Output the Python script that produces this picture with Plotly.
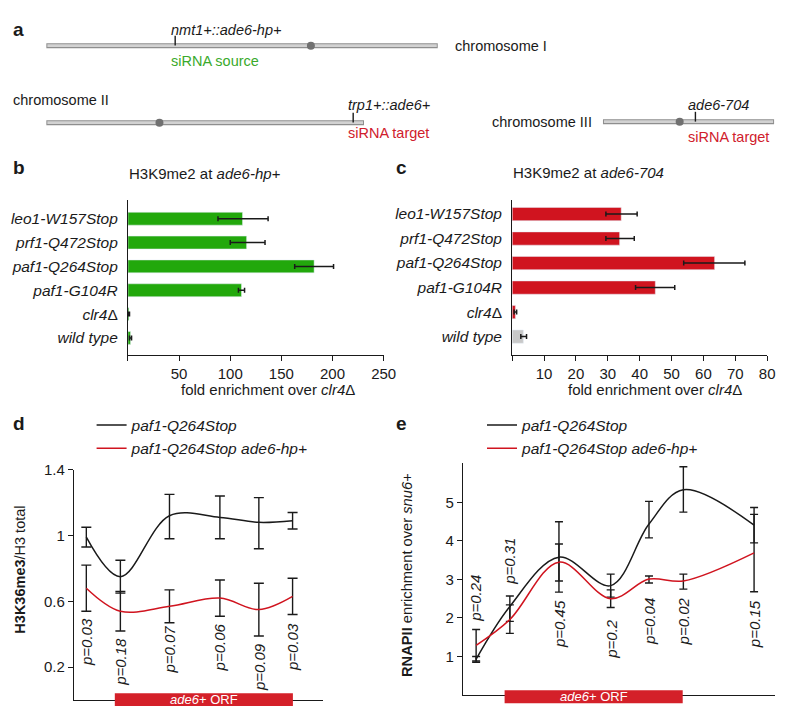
import plotly.graph_objects as go

# ---- panel a : schematic chromosomes (schematic units) ----
chrom_labels = ["chromosome I", "chromosome II", "chromosome III"]
chrom_start = [47, 47, 613]
chrom_end = [445, 370, 787]
cen_pos = [316, 162, 691]
locus_pos = [178, 359, 707]
locus_names = ["nmt1+::ade6-hp+", "trp1+::ade6+", "ade6-704"]
locus_roles = ["siRNA source", "siRNA target", "siRNA target"]

# ---- panels b / c : H3K9me2 bars ----
strains = ["leo1-W157Stop", "prf1-Q472Stop", "paf1-Q264Stop", "paf1-G104R", "clr4Δ", "wild type"]
strain_ticks = ["<i>leo1-W157Stop</i>", "<i>prf1-Q472Stop</i>", "<i>paf1-Q264Stop</i>",
                "<i>paf1-G104R</i>", "<i>clr4</i>Δ", "<i>wild type</i>"]
b_values = [112, 116, 182, 111, 1, 2.5]
b_err_plus = [25, 18, 19, 3, 0.5, 1]
b_err_minus = [24, 16, 19, 3, 0.5, 1]
c_values = [34.2, 33.7, 63.5, 44.9, 1.0, 3.5]
c_err_plus = [5.0, 4.6, 9.5, 6.1, 0.4, 1.0]
c_err_minus = [4.8, 4.3, 9.7, 6.2, 0.4, 0.8]

# ---- panel d : H3K36me3 along ade6+ ----
d_pos = [0.38, 1.42, 2.92, 4.46, 5.65, 6.68]
d_black = [0.99, 0.75, 1.12, 1.11, 1.08, 1.09]
d_black_plus = [0.06, 0.10, 0.13, 0.13, 0.15, 0.05]
d_black_minus = [0.06, 0.10, 0.14, 0.13, 0.16, 0.05]
d_red = [0.68, 0.54, 0.57, 0.62, 0.55, 0.63]
d_red_plus = [0.14, 0.12, 0.10, 0.11, 0.16, 0.11]
d_red_minus = [0.14, 0.12, 0.10, 0.11, 0.16, 0.11]
d_pvals = ["p=0.03", "p=0.18", "p=0.07", "p=0.06", "p=0.09", "p=0.03"]
d_orf = [1.25, 6.69]

# ---- panel e : RNAPII along ade6+ ----
e_pos = [0.40, 1.43, 2.93, 4.51, 5.68, 6.73, 8.89]
e_black = [0.93, 2.30, 3.58, 2.84, 4.44, 5.33, 4.41]
e_black_plus = [0.07, 0.27, 0.92, 0.30, 0.59, 0.60, 0.46]
e_black_minus = [0.08, 0.39, 0.91, 0.30, 0.36, 0.58, 0.46]
e_red = [1.29, 1.96, 3.45, 2.50, 3.01, 2.96, 3.69]
e_red_plus = [0.41, 0.38, 0.47, 0.23, 0.08, 0.18, 1.00]
e_red_minus = [0.41, 0.36, 0.49, 0.23, 0.10, 0.21, 1.01]
e_pvals = ["p=0.24", "p=0.31", "p=0.45", "p=0.2", "p=0.04", "p=0.02", "p=0.15"]
e_orf = [1.27, 6.71]

GREEN = "#22a80c"
RED = "#d0141f"
INK = "#1a1a1a"
FONT = "Arial, Liberation Sans, sans-serif"

# the page body has an 8px margin, so the figure is 16px smaller than the window
OFF = 8
W, H = 800 - 2 * OFF, 721 - 2 * OFF


def fx(xp):
    return (xp - OFF) / W


def fy(yp):
    return 1 - (yp - OFF) / H


fig = go.Figure()

# chromosomes
row_y = [37, 115, 114]
for i in range(3):
    fig.add_trace(go.Scatter(x=[chrom_start[i], chrom_end[i]], y=[row_y[i]] * 2, mode="lines",
                             line=dict(color="#8e8e8e", width=5), xaxis="x5", yaxis="y5",
                             showlegend=False, hoverinfo="skip"))
    fig.add_trace(go.Scatter(x=[chrom_start[i] + 1, chrom_end[i] - 1], y=[row_y[i]] * 2, mode="lines",
                             line=dict(color="#d2d2d2", width=2.6), xaxis="x5", yaxis="y5",
                             showlegend=False, hoverinfo="skip"))
fig.add_trace(go.Scatter(x=cen_pos, y=row_y, mode="markers", xaxis="x5", yaxis="y5",
                         marker=dict(color="#707070", size=8), showlegend=False, cliponaxis=False))
fig.add_trace(go.Scatter(x=locus_pos, y=[r - 5 for r in row_y], mode="markers", xaxis="x5", yaxis="y5",
                         marker=dict(symbol="line-ns-open", size=7, color=INK, line=dict(color=INK, width=1.4)),
                         showlegend=False, cliponaxis=False))

# bars b / c
fig.add_trace(go.Bar(x=b_values, y=strains, orientation="h", marker_color=GREEN, width=0.54,
                     error_x=dict(type="data", symmetric=False, array=b_err_plus, arrayminus=b_err_minus,
                                  color=INK, thickness=1.5, width=2.5),
                     xaxis="x", yaxis="y", showlegend=False))
c_colors = [RED, RED, RED, RED, RED, "#c8c8c8"]
fig.add_trace(go.Bar(x=c_values, y=strains, orientation="h", marker_color=c_colors, width=0.54,
                     error_x=dict(type="data", symmetric=False, array=c_err_plus, arrayminus=c_err_minus,
                                  color=INK, thickness=1.5, width=2.5),
                     xaxis="x2", yaxis="y2", showlegend=False))

# lines d / e
series = [
    ("x3", "y3", d_pos, d_black, d_black_plus, d_black_minus, INK, "<i>paf1-Q264Stop</i>", "legend", 5),
    ("x3", "y3", d_pos, d_red, d_red_plus, d_red_minus, RED, "<i>paf1-Q264Stop ade6-hp+</i>", "legend", 5),
    ("x4", "y4", e_pos, e_black, e_black_plus, e_black_minus, INK, "<i>paf1-Q264Stop</i>", "legend2", 4),
    ("x4", "y4", e_pos, e_red, e_red_plus, e_red_minus, RED, "<i>paf1-Q264Stop ade6-hp+</i>", "legend2", 4),
]
for k, (xa, ya, xs, ys, ep, em, col, name, leg, capw) in enumerate(series):
    fig.add_trace(go.Scatter(
        x=xs, y=ys, mode="lines", name=name, legend=leg, legendgroup=f"g{k}",
        line=dict(color=col, width=1.5, shape="spline", smoothing=1.0),
        error_y=dict(type="data", symmetric=False, array=ep, arrayminus=em,
                     color=INK, thickness=1.4, width=capw),
        xaxis=xa, yaxis=ya))

ann = []


def note(text, x, y, size=15, color=INK, xanchor="center", angle=0, xref="paper", yref="paper", bold=False):
    if bold:
        text = f"<b>{text}</b>"
    ann.append(dict(text=text, x=x, y=y, xref=xref, yref=yref, showarrow=False, xanchor=xanchor,
                    yanchor="middle", textangle=angle, font=dict(size=size, color=color, family=FONT)))


def px(xp, yp):
    return fx(xp), fy(yp)


# panel letters
for letter, (lx, ly) in zip("abcde", [(11, 21), (11, 160), (401, 160), (11, 420), (400, 420)]):
    note(letter, *px(lx, ly), size=19, xanchor="left", bold=True)

# chromosome texts
note(chrom_labels[0], *px(461, 37), size=14.5, xanchor="left")
note(chrom_labels[1], *px(11, 92), size=14.5, xanchor="left")
note(chrom_labels[2], *px(604, 114), size=14.5, xanchor="right")
locus_xy = [(172, 21), (352, 97), (697, 97)]
role_xy = [(172, 53), (352, 126), (697, 130)]
role_cols = ["#3aaa2c", "#d0202c", "#d0202c"]
for i in range(3):
    note(f"<i>{locus_names[i]}</i>", *px(*locus_xy[i]), size=14.5, xanchor="left")
    note(locus_roles[i], *px(*role_xy[i]), size=14.5, xanchor="left", color=role_cols[i])

# panel titles and axis titles
note("H3K9me2 at <i>ade6-hp+</i>", *px(129, 167), xanchor="left")
note("H3K9me2 at <i>ade6-704</i>", *px(519, 166), xanchor="left")
note("fold enrichment over <i>clr4</i>Δ", *px(272, 385))
note("fold enrichment over <i>clr4</i>Δ", *px(666, 385))
note("<b>H3K36me3</b>/H3 total", *px(20, 568), angle=-90, size=14.5)
note("<b>RNAPII</b> enrichment over <i>snu6+</i>", *px(414, 573), angle=-90, size=14.7)

# p-values
d_pv_y = [0.355, 0.235, 0.31, 0.32, 0.20, 0.32]
for xv, yv, t in zip(d_pos, d_pv_y, d_pvals):
    note(f"<i>{t}</i>", xv, yv, xref="x3", yref="y3", angle=-90)
e_pv_y = [2.50, 3.48, 1.84, 1.45, 1.92, 1.92, 1.84]
for xv, yv, t in zip(e_pos, e_pv_y, e_pvals):
    note(f"<i>{t}</i>", xv, yv, xref="x4", yref="y4", angle=-90)

# ORF bars
shapes = []
for xa, orf, (y0, y1) in [("x3", d_orf, (706, 693)), ("x4", e_orf, (703, 690))]:
    shapes.append(dict(type="rect", xref=xa, yref="paper", x0=orf[0], x1=orf[1],
                       y0=fy(y0), y1=fy(y1), fillcolor="#d42029", line=dict(width=0)))
    ann.append(dict(text="<i>ade6</i>+ ORF", x=(orf[0] + orf[1]) / 2, y=fy((y0 + y1) / 2),
                    xref=xa, yref="paper", showarrow=False, yanchor="middle",
                    font=dict(size=13, color="white", family=FONT)))

axis_common = dict(showline=True, linecolor=INK, linewidth=1.2, showgrid=False, zeroline=False,
                   tickfont=dict(size=15, color=INK, family=FONT), ticks="outside", ticklen=5,
                   tickcolor=INK, tickwidth=1.2)
cat_font = dict(size=15.5, color=INK, family=FONT)
legend_style = dict(xanchor="left", yanchor="top", bgcolor="rgba(0,0,0,0)",
                    font=dict(size=15.5, color=INK, family=FONT), tracegroupgap=0)

fig.update_layout(
    width=W, height=H, margin=dict(l=0, r=0, t=0, b=0),
    paper_bgcolor="white", plot_bgcolor="white",
    font=dict(family=FONT, color=INK),
    xaxis=dict(axis_common, domain=[fx(130), fx(390)], range=[0, 250], anchor="y",
               tickvals=[0, 50, 100, 150, 200, 250], ticktext=["", "50", "100", "150", "200", "250"]),
    yaxis=dict(axis_common, domain=[fy(350), fy(193)], anchor="x", range=[5.7, -0.8],
               type="category", categoryorder="array", categoryarray=strains, ticks="",
               tickvals=strains, ticktext=strain_ticks, ticklabelstandoff=6, tickfont=cat_font),
    xaxis2=dict(axis_common, domain=[fx(520.7), fx(780)], range=[0, 80], anchor="y2",
                tickvals=list(range(0, 90, 10)), ticktext=[""] + [str(v) for v in range(10, 90, 10)]),
    yaxis2=dict(axis_common, domain=[fy(350), fy(193)], anchor="x2", range=[5.735, -0.586],
                type="category", categoryorder="array", categoryarray=strains, ticks="",
                tickvals=strains, ticktext=strain_ticks, ticklabelstandoff=6, tickfont=cat_font),
    xaxis3=dict(axis_common, domain=[fx(75), fx(328)], range=[0, 7.6], anchor="y3",
                ticks="", showticklabels=False),
    yaxis3=dict(axis_common, domain=[fy(700), fy(466.5)], range=[0, 1.4], anchor="x3",
                tickvals=[0.2, 0.6, 1, 1.4], ticktext=["0.2", "0.6", "1", "1.4"]),
    xaxis4=dict(axis_common, domain=[fx(470.7), fx(788.3)], range=[0, 9.54], anchor="y4",
                ticks="", showticklabels=False),
    yaxis4=dict(axis_common, domain=[fy(694.7), fy(460)], range=[0, 6.02], anchor="x4",
                tickvals=[1, 2, 3, 4, 5]),
    xaxis5=dict(domain=[0, 1], range=[OFF, 800 - OFF], visible=False, anchor="y5"),
    yaxis5=dict(domain=[fy(145), 1], range=[145, OFF], visible=False, anchor="x5"),
    legend=dict(legend_style, x=fx(93), y=fy(404.5)),
    legend2=dict(legend_style, x=fx(490), y=fy(404.5)),
    annotations=ann,
    shapes=shapes,
)

fig.write_html("out.html")
